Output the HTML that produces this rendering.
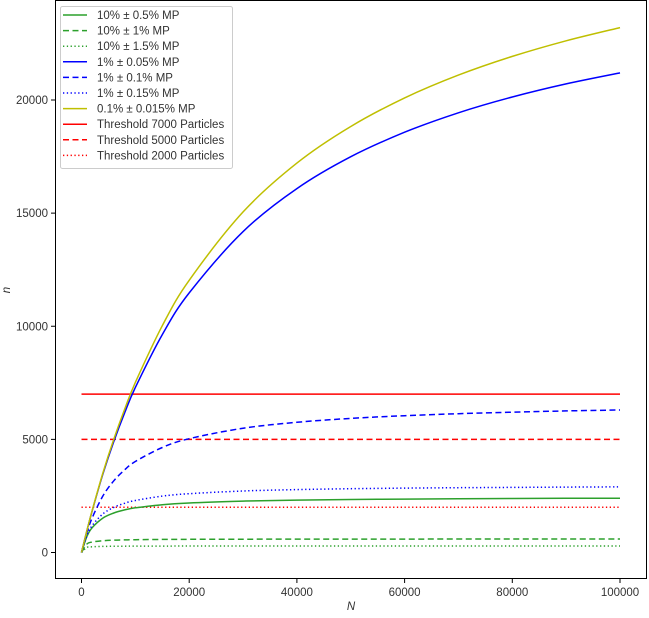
<!DOCTYPE html>
<html><head><meta charset="utf-8"><style>
body{margin:0;background:#fff;font-family:"Liberation Sans","DejaVu Sans",sans-serif}
svg text{font-family:"Liberation Sans","DejaVu Sans",sans-serif;font-size:11.5px;fill:#333}
</style></head><body>
<svg id="c" width="649" height="613"></svg>
<script>
const xs=[0,1000,2000,4000,6000,8000,10000,15000,20000,30000,40000,50000,60000,70000,80000,90000,100000];
const yellowSolid=[0,968,1876,3532,5005,6326,7512,10023,12033,15052,17210,18830,20091,21100,21926,22615,23200];
const blueSolid=[0,964,1862,3482,4906,6167,7290,9630,11472,14185,16085,17492,18575,19434,20132,20712,21200];
const blueDashed=[0,870,1542,2508,3171,3653,4020,4643,5032,5493,5756,5926,6046,6135,6203,6257,6300];
const blueDotted=[0,749,1198,1710,1994,2175,2300,2491,2599,2717,2779,2819,2845,2865,2879,2891,2900];
const greenSolid=[0,711,1103,1523,1744,1881,1974,2113,2190,2273,2317,2344,2362,2376,2386,2394,2400];
const greenDashed=[0,375,462,522,545,558,566,577,582,588,591,593,594,595,596,596,596];
const greenDotted=[0,225,253,270,277,280,282,284,286,287,288,288,289,289,289,289,289];
const thresholds=[7000,5000,2000];
const xTicks=[0,20000,40000,60000,80000,100000];
const yTicks=[0,5000,10000,15000,20000];
const legendLabels=["10% ± 0.5% MP","10% ± 1% MP","10% ± 1.5% MP","1% ± 0.05% MP","1% ± 0.1% MP","1% ± 0.15% MP","0.1% ± 0.015% MP","Threshold 7000 Particles","Threshold 5000 Particles","Threshold 2000 Particles"];

const NS="http://www.w3.org/2000/svg",svg=document.getElementById('c');
const X=v=>81.5+v*538.5/100000, Y=v=>552.5-v*0.022625;
function el(t,a,p){const e=document.createElementNS(NS,t);for(const k in a)e.setAttribute(k,a[k]);(p||svg).appendChild(e);return e;}
function smooth(pts){let d='M'+pts[0][0].toFixed(1)+','+pts[0][1].toFixed(1);
for(let i=0;i<pts.length-1;i++){const p0=pts[Math.max(i-1,0)],p1=pts[i],p2=pts[i+1],p3=pts[Math.min(i+2,pts.length-1)];
const c1=[p1[0]+(p2[0]-p0[0])/6,p1[1]+(p2[1]-p0[1])/6],c2=[p2[0]-(p3[0]-p1[0])/6,p2[1]-(p3[1]-p1[1])/6];
d+='C'+c1.map(v=>v.toFixed(1)).join(',')+' '+c2.map(v=>v.toFixed(1)).join(',')+' '+p2[0].toFixed(1)+','+p2[1].toFixed(1);}
return d;}
const G='#2ca02c',B='#0000ff',YL='#bfbf00',R='#ff0000';
const dash={s:'none',d:'6,3.5',o:'1.3,2.5'};
const series=[[greenSolid,G,'s','green-solid'],[greenDashed,G,'d','green-dashed'],[greenDotted,G,'o','green-dotted'],[blueSolid,B,'s','blue-solid'],[blueDashed,B,'d','blue-dashed'],[blueDotted,B,'o','blue-dotted'],[yellowSolid,YL,'s','yellow-solid']];
const tst=['s','d','o'];
thresholds.forEach((t,i)=>{const l=el('line',{x1:X(0),x2:X(100000),y1:Y(t),y2:Y(t),stroke:R,'stroke-width':1.5,'stroke-dasharray':dash[tst[i]]});

});
series.forEach(([d,c,s,n])=>{const p=el('path',{d:smooth(d.map((v,i)=>[X(xs[i]),Y(v)])),fill:'none',stroke:c,'stroke-width':1.5,'stroke-dasharray':dash[s]});

});
const f=el('rect',{x:55.5,y:0.5,width:591,height:578,fill:'none',stroke:'#000','stroke-width':1});


xTicks.forEach(t=>{el('line',{x1:X(t),x2:X(t),y1:579,y2:583,stroke:'#000'});const tx=el('text',{x:X(t),y:596,'text-anchor':'middle'});tx.textContent=t;

});
yTicks.forEach(t=>{el('line',{x1:51,x2:55.5,y1:Y(t),y2:Y(t),stroke:'#000'});const tx=el('text',{x:48,y:Y(t)+4,'text-anchor':'end'});tx.textContent=t;

});
const xl=el('text',{x:351,y:610,'text-anchor':'middle','font-style':'italic'});xl.textContent='N';


const yl=el('text',{x:10,y:290,'text-anchor':'middle','font-style':'italic',transform:'rotate(-90 10 290)'});yl.textContent='n';


const lg=el('g',{});


el('rect',{x:60.5,y:6.5,width:172,height:162,rx:2,fill:'#fff',stroke:'#ccc'},lg);
const lstyle=[[G,'s'],[G,'d'],[G,'o'],[B,'s'],[B,'d'],[B,'o'],[YL,'s'],[R,'s'],[R,'d'],[R,'o']];
legendLabels.forEach((t,i)=>{const y=15+i*15.6;
const g=el('g',{},lg);


el('line',{x1:63,x2:87,y1:y,y2:y,stroke:lstyle[i][0],'stroke-width':1.5,'stroke-dasharray':dash[lstyle[i][1]]},g);
const tx=el('text',{x:97,y:y+4,'font-size':'12px'},g);tx.textContent=t;});
</script></body></html>
